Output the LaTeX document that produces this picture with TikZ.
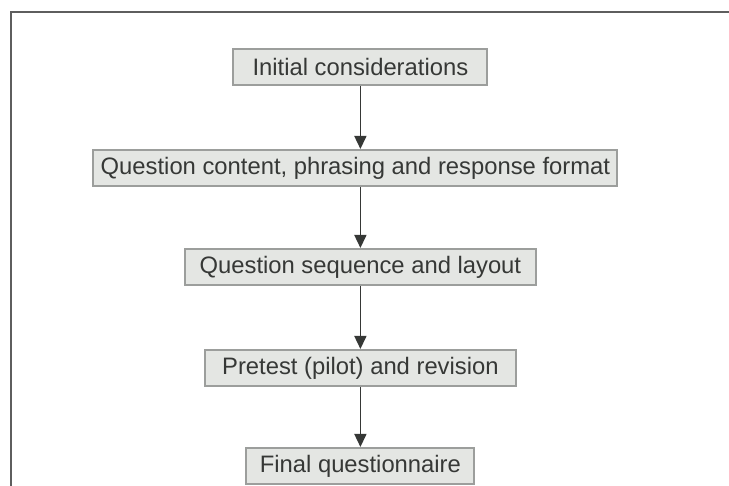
\documentclass[tikz,border=0pt]{standalone}
\usepackage{fontspec}
\setmainfont{Liberation Sans}
\usetikzlibrary{positioning,arrows.meta}
\definecolor{BoxFill}{HTML}{E4E6E3}
\definecolor{BoxEdge}{HTML}{9C9E9C}
\definecolor{Ink}{HTML}{363836}
\definecolor{Frame}{HTML}{5E5E5E}
\tikzset{
  step box/.style={draw=BoxEdge,line width=1pt,fill=BoxFill,
    minimum height=18pt,inner sep=2pt,text=Ink,
    font=\fontsize{11.9}{14}\selectfont},
  step arrow/.style={-{Triangle[width=6pt,length=6.5pt]},line width=.75pt,draw=Ink},
  frame line/.style={line width=.8pt,draw=Frame}
}
\begin{document}
\begin{tikzpicture}[node distance=31.5pt]
  \useasboundingbox (0,0) rectangle (364.5pt,-243pt);
  \draw[frame line] (5.5pt,-243pt) -- (5.5pt,-6pt) -- (364.5pt,-6pt);
  \node[step box,minimum width=127pt] (initial) at (180.2pt,-33.5pt) {Initial considerations};
  \node[step box,minimum width=262pt,below=of initial,xshift=-2.5pt] (content) {Question content, phrasing and response format};
  \node[step box,minimum width=175.5pt,below=of initial,yshift=-49.5pt] (sequence) {Question sequence and layout};
  \node[step box,minimum width=155.5pt,below=of sequence] (pretest) {Pretest (pilot) and revision};
  \node[step box,minimum width=114pt,below=30pt of pretest] (final) {Final questionnaire};
  \draw[step arrow] (initial.south) -- (initial.south |- content.north);
  \draw[step arrow] (initial.south |- content.south) -- (sequence.north);
  \draw[step arrow] (sequence) -- (pretest);
  \draw[step arrow] (pretest) -- (final);
\end{tikzpicture}
\end{document}
